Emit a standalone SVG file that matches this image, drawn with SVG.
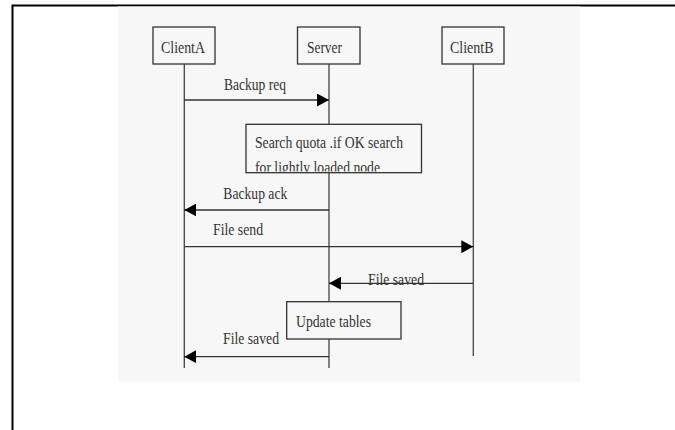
<svg xmlns="http://www.w3.org/2000/svg" width="675" height="430" viewBox="0 0 675 430">
  <style>
    .frame { fill: none; stroke: #000; stroke-width: 2; }
    .panel { fill: #f7f7f7; }
    .box { fill: #f7f7f7; stroke: #333; stroke-width: 1.3; }
    .life { stroke: #444; stroke-width: 1.3; fill: none; }
    .msg { stroke: #333; stroke-width: 1.3; fill: none; marker-end: url(#head); }
    .lbl { font-family: "Liberation Serif", "Times New Roman", serif; font-size: 17px; fill: #333; }
  </style>
  <defs>
    <marker id="head" viewBox="0 0 12 13" refX="12" refY="6.5" markerWidth="12" markerHeight="13" markerUnits="userSpaceOnUse" orient="auto">
      <path d="M0,0 L12,6.5 L0,13 Z" fill="#000"/>
    </marker>
    <clipPath id="searchClip">
      <rect x="247" y="125" width="174" height="46.5"/>
    </clipPath>
  </defs>

  <rect width="675" height="430" fill="#fff"/>
  <!-- page frame: left and top edges -->
  <path class="frame" d="M12.5,430 L12.5,5.5 L675,5.5"/>
  <!-- light panel behind the sequence -->
  <rect class="panel" x="118" y="6.5" width="462" height="375"/>

  <!-- lifelines -->
  <g id="lifelines">
    <line class="life" x1="184.3" y1="64" x2="184.3" y2="368"/>
    <line class="life" x1="329" y1="64" x2="329" y2="368"/>
    <line class="life" x1="473.3" y1="64" x2="473.3" y2="356"/>
  </g>

  <g id="clientA">
    <rect class="box" x="153" y="27" width="62" height="37"/>
    <text class="lbl" x="161" y="52.5" textLength="44" lengthAdjust="spacingAndGlyphs">ClientA</text>
  </g>
  <g id="server">
    <rect class="box" x="297.5" y="27" width="62.5" height="37"/>
    <text class="lbl" x="307" y="52.5" textLength="35" lengthAdjust="spacingAndGlyphs">Server</text>
  </g>
  <g id="clientB">
    <rect class="box" x="442" y="27" width="62" height="37"/>
    <text class="lbl" x="450" y="52.5" textLength="43.5" lengthAdjust="spacingAndGlyphs">ClientB</text>
  </g>

  <g id="search-quota">
    <rect class="box" x="246" y="124.3" width="175.5" height="48.4"/>
    <g clip-path="url(#searchClip)">
      <text class="lbl" x="255" y="147.5" textLength="148" lengthAdjust="spacingAndGlyphs">Search quota .if OK search</text>
      <text class="lbl" x="255" y="172.5" textLength="125" lengthAdjust="spacingAndGlyphs">for lightly loaded node</text>
    </g>
  </g>

  <g id="update-tables">
    <rect class="box" x="286.7" y="301.7" width="114.3" height="37.3"/>
    <text class="lbl" x="296" y="326.8" textLength="75" lengthAdjust="spacingAndGlyphs">Update tables</text>
  </g>

  <!-- messages -->
  <g id="connectors">
    <line class="msg" x1="184.3" y1="100" x2="329" y2="100"/>
    <line class="msg" x1="329" y1="210" x2="184.3" y2="210"/>
    <line class="msg" x1="184.3" y1="246.7" x2="473.3" y2="246.7"/>
    <line class="msg" x1="473.3" y1="283.3" x2="329" y2="283.3"/>
    <line class="msg" x1="329" y1="356.7" x2="184.3" y2="356.7"/>
  </g>

  <g id="message-labels">
    <text class="lbl" x="224" y="89.5" textLength="62" lengthAdjust="spacingAndGlyphs">Backup req</text>
    <text class="lbl" x="223.3" y="198.5" textLength="64" lengthAdjust="spacingAndGlyphs">Backup ack</text>
    <text class="lbl" x="213" y="235.3" textLength="50" lengthAdjust="spacingAndGlyphs">File send</text>
    <text class="lbl" x="368" y="284.5" textLength="56" lengthAdjust="spacingAndGlyphs">File saved</text>
    <text class="lbl" x="223" y="344.3" textLength="56" lengthAdjust="spacingAndGlyphs">File saved</text>
  </g>
</svg>
